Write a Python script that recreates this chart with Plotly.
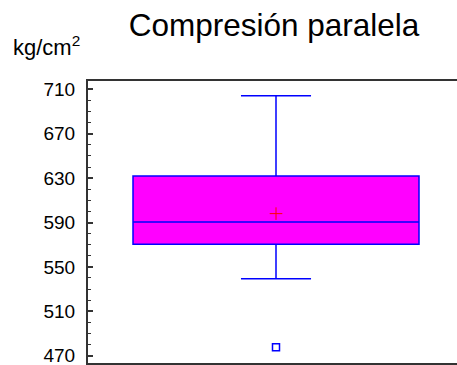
import plotly.graph_objects as go

# Data
category = ["Compresión paralela"]
q1 = [570.4]
median = [590.5]
q3 = [632.0]
lower_whisker = [539.4]
upper_whisker = [704.2]
mean_value = [598.0]
outliers = [477.7]
y_ticks = [470, 510, 550, 590, 630, 670, 710]

x_pos = [0]

fig = go.Figure()
fig.add_trace(go.Box(
    x=x_pos, q1=q1, median=median, q3=q3,
    lowerfence=lower_whisker, upperfence=upper_whisker,
    width=286, whiskerwidth=0.245, boxpoints=False,
    fillcolor="#FF00FF", line=dict(color="#0000FF", width=1.5),
    name=category[0], showlegend=False, hoverinfo="skip",
))
fig.add_trace(go.Scatter(
    x=x_pos * len(mean_value), y=mean_value, mode="markers",
    marker=dict(symbol="cross-thin", size=9, line=dict(color="#FF0000", width=1)),
    showlegend=False, hoverinfo="skip",
))
fig.add_trace(go.Scatter(
    x=x_pos * len(outliers), y=outliers, mode="markers",
    marker=dict(symbol="square-open", size=7, color="#0000FF", line=dict(width=1.5)),
    showlegend=False, hoverinfo="skip",
))

fig.update_layout(
    width=457, height=365,
    margin=dict(l=88, r=0, t=81, b=2),
    paper_bgcolor="white", plot_bgcolor="white",
    font=dict(family="Liberation Sans, Arial, sans-serif", color="black"),
    title=dict(text="Compresión paralela", x=274/457, xanchor="center",
               y=1 - 25/365, yanchor="middle", yref="container",
               font=dict(size=31.5, color="black")),
    xaxis=dict(range=[-188, 181], showticklabels=False, ticks="",
               showgrid=False, zeroline=False, showline=True, mirror=True,
               linecolor="#333333", linewidth=2),
    yaxis=dict(range=[463.4, 717.5], tickvals=y_ticks, ticks="inside",
               ticklen=5, tickwidth=1.5, tickcolor="#333333",
               minor=dict(dtick=10, ticks="inside", ticklen=3, tickwidth=1.2, tickcolor="#333333", showgrid=False),
               showgrid=False, zeroline=False, showline=True, mirror=False,
               linecolor="#333333", linewidth=2, ticklabeloverflow="allow",
               tickfont=dict(size=19, color="black"), ticklabelstandoff=7),
    annotations=[dict(text="kg/cm<sup>2</sup>", xref="paper", yref="paper",
                      x=-88/369 + 11/369, y=1 + (81 - 55) / 282, xanchor="left",
                      yanchor="bottom", showarrow=False, yshift=-7,
                      font=dict(size=22, color="black"))],
)

fig.write_html("out.html", config={"displayModeBar": False},
               post_script="document.body.style.margin='0';document.body.style.padding='0';")
